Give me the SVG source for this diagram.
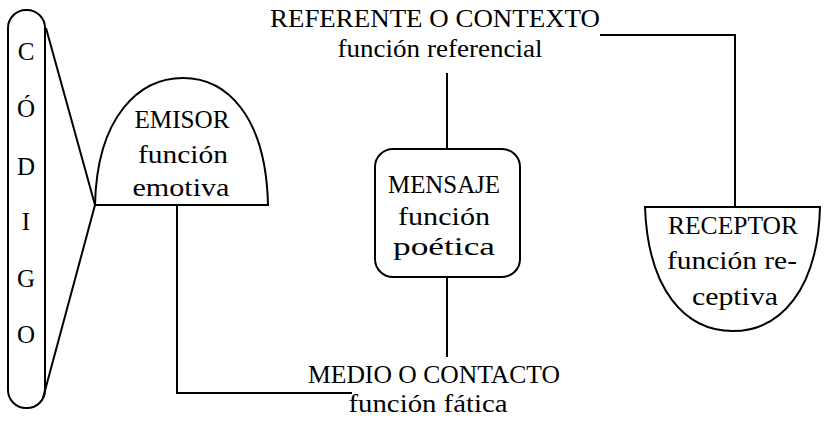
<svg xmlns="http://www.w3.org/2000/svg" width="827" height="422" viewBox="0 0 827 422">
<style>
.s{fill:none;stroke:#000;stroke-width:2;stroke-linejoin:miter}
text{font-family:"Liberation Serif","Times New Roman",serif;font-size:26px;fill:#000;text-anchor:middle}
.c{font-size:25px}
</style>
<rect x="0" y="0" width="827" height="422" fill="#fff"/>
<g id="connectors" class="s">
<line x1="46" y1="28" x2="95" y2="205"/>
<line x1="43" y1="398" x2="95" y2="205"/>
<polyline points="177,205 177,393 352,393"/>
<line x1="447" y1="277" x2="447" y2="357"/>
<line x1="447" y1="73" x2="447" y2="149"/>
<polyline points="600,35 735,35 735,207"/>
</g>
<g id="codigo">
<rect class="s" x="8" y="10" width="37" height="398" rx="18"/>
<text class="c" x="26" y="60">C</text>
<text class="c" x="26" y="117">Ó</text>
<text class="c" x="26" y="175">D</text>
<text class="c" x="26" y="230">I</text>
<text class="c" x="26" y="287">G</text>
<text class="c" x="26" y="343">O</text>
</g>
<g id="emisor">
<path class="s" d="M95,205 C97,115 140,78 183,78 C226,78 266,115 268,205 Z"/>
<text x="182" y="128" textLength="95" lengthAdjust="spacingAndGlyphs">EMISOR</text>
<text x="183" y="163" textLength="90" lengthAdjust="spacingAndGlyphs">función</text>
<text x="181" y="196" textLength="97" lengthAdjust="spacingAndGlyphs">emotiva</text>
</g>
<g id="referente">
<text x="435" y="27" textLength="330" lengthAdjust="spacingAndGlyphs">REFERENTE O CONTEXTO</text>
<text x="440" y="57" textLength="205" lengthAdjust="spacingAndGlyphs">función referencial</text>
</g>
<g id="mensaje">
<rect class="s" x="375" y="149" width="145" height="128" rx="18"/>
<text x="444" y="193" textLength="112" lengthAdjust="spacingAndGlyphs">MENSAJE</text>
<text x="444" y="225" textLength="92" lengthAdjust="spacingAndGlyphs">función</text>
<text x="444" y="255" textLength="102" lengthAdjust="spacingAndGlyphs">poética</text>
</g>
<g id="medio">
<text x="434" y="383" textLength="252" lengthAdjust="spacingAndGlyphs">MEDIO O CONTACTO</text>
<text x="428" y="412" textLength="159" lengthAdjust="spacingAndGlyphs">función fática</text>
</g>
<g id="receptor">
<path class="s" d="M645,207 L820,207 C818,290 780,331 733,331 C685,331 648,290 645,207 Z"/>
<text x="733" y="234" textLength="130" lengthAdjust="spacingAndGlyphs">RECEPTOR</text>
<text x="732" y="269" textLength="130" lengthAdjust="spacingAndGlyphs">función re-</text>
<text x="735" y="305" textLength="86" lengthAdjust="spacingAndGlyphs">ceptiva</text>
</g>
</svg>
